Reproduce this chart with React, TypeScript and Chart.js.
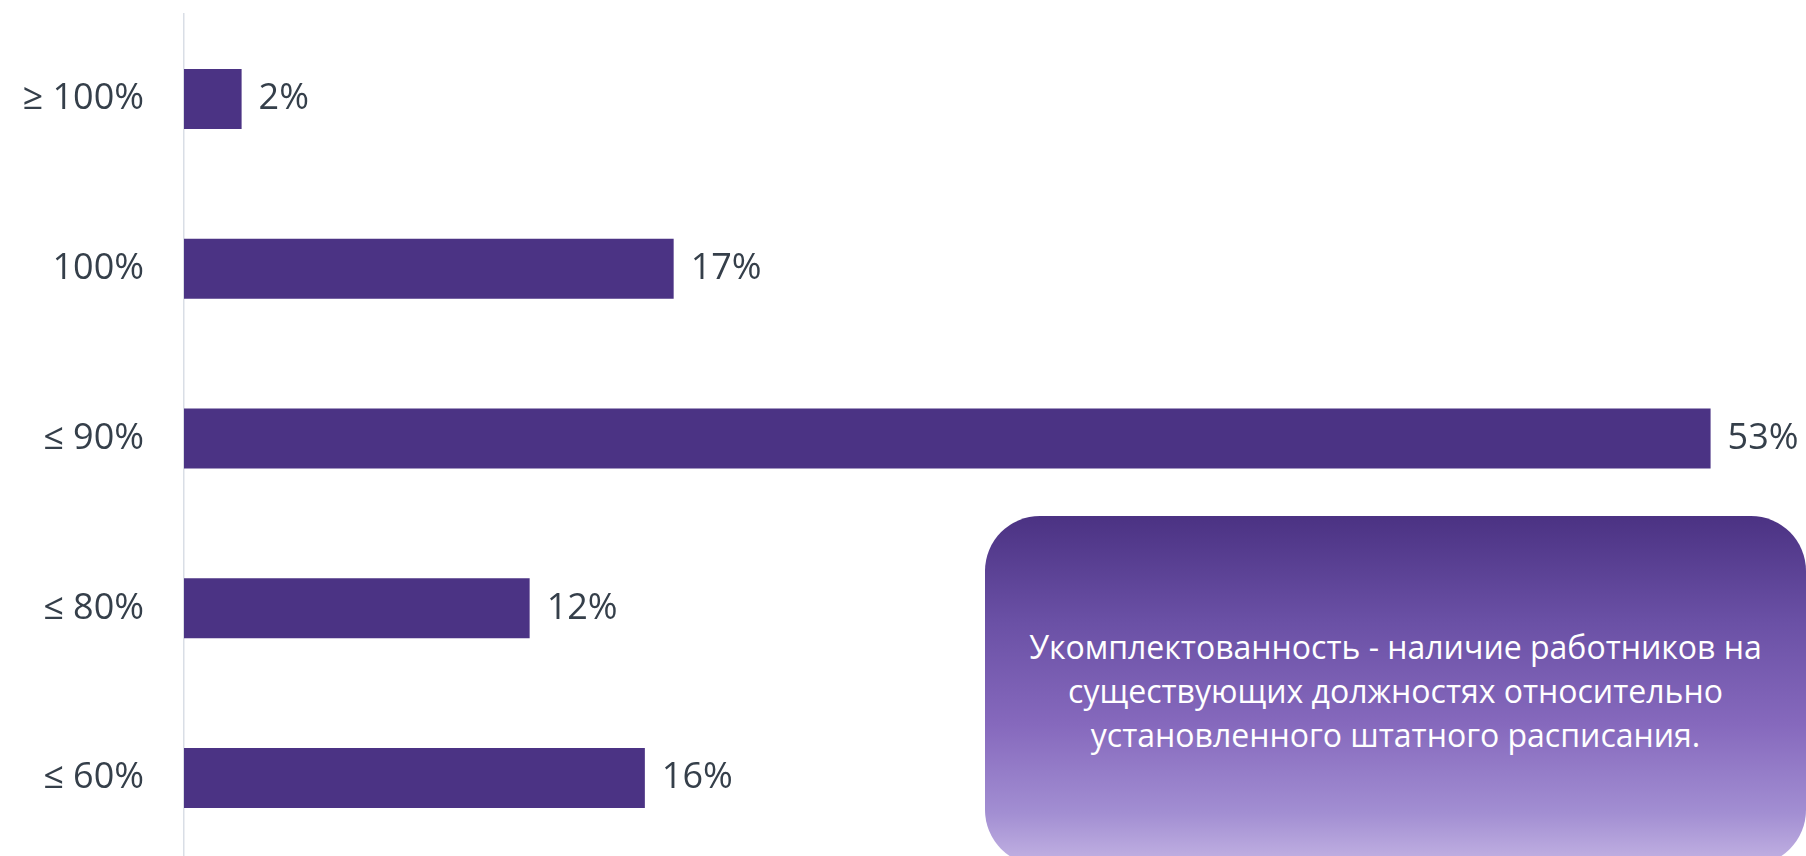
import React, { useEffect, useRef } from "react";
import { Chart, registerables } from "chart.js";

Chart.register(...registerables);

const categories = ["≥ 100%", "100%", "≤ 90%", "≤ 80%", "≤ 60%"];
const values = [2, 17, 53, 12, 16];
const valueLabels = ["2%", "17%", "53%", "12%", "16%"];
const noteLines = [
  "Укомплектованность - наличие работников на",
  "существующих должностях относительно",
  "установленного штатного расписания.",
];

const BAR_COLOR = "#4b3384";
const TEXT_COLOR = "#353f4a";
const FONT = "'Open Sans', sans-serif";
const LABEL_SIZE = 36;

const valueLabelPlugin = {
  id: "valueLabelPlugin",
  afterDatasetsDraw(chart: any) {
    const ctx = chart.ctx;
    const meta = chart.getDatasetMeta(0);
    ctx.save();
    ctx.font = `${LABEL_SIZE}px ${FONT}`;
    ctx.fillStyle = TEXT_COLOR;
    ctx.textAlign = "left";
    ctx.textBaseline = "middle";
    meta.data.forEach((el: any, i: number) => {
      ctx.fillText(valueLabels[i], el.x + 17, el.y);
    });
    ctx.restore();
  },
};

export default function App() {
  const canvasRef = useRef<HTMLCanvasElement | null>(null);

  useEffect(() => {
    if (!canvasRef.current) return;
    const chart = new Chart(canvasRef.current, {
      type: "bar",
      data: {
        labels: categories,
        datasets: [
          {
            data: values,
            backgroundColor: BAR_COLOR,
            borderWidth: 0,
            barPercentage: 0.3535,
            categoryPercentage: 1,
          },
        ],
      },
      options: {
        indexAxis: "y",
        responsive: true,
        maintainAspectRatio: false,
        animation: false,
        layout: { padding: { top: 14, bottom: 7, left: 0, right: 9 } },
        plugins: {
          legend: { display: false },
          tooltip: { enabled: false },
        },
        scales: {
          x: { display: false, min: 0, max: 56 },
          y: {
            grid: { display: true, drawOnChartArea: false, drawTicks: false },
            border: { display: true, color: "#d9dee6", width: 1.5 },
            ticks: {
              padding: 40,
              color: TEXT_COLOR,
              font: { size: LABEL_SIZE, family: FONT },
            },
            afterFit(scale: any) {
              scale.width = 184;
              scale.paddingTop = 0;
              scale.paddingBottom = 0;
            },
          },
        },
      },
      plugins: [valueLabelPlugin],
    } as any);
    return () => chart.destroy();
  }, []);

  return (
    <div style={{ position: "fixed", left: 0, top: 0, width: 1806, height: 870, background: "#ffffff" }}>
      <div style={{ position: "absolute", left: 0, top: 0, width: 1806, height: 870 }}>
        <canvas ref={canvasRef} />
      </div>
      <div
        style={{
          position: "absolute",
          left: 985,
          top: 516,
          width: 821,
          height: 349,
          borderRadius: 55,
          background:
            "linear-gradient(to bottom, #4b3283 0%, #6a50a5 30%, #8669bd 60%, #a28ed2 85%, #c3b3e3 100%)",
          display: "flex",
          flexDirection: "column",
          alignItems: "center",
          justifyContent: "center",
          color: "#ffffff",
          fontFamily: FONT,
          fontSize: 32,
          lineHeight: "44px",
          textAlign: "center",
        }}
      >
        {noteLines.map((l, i) => (
          <div key={i} style={{ whiteSpace: "nowrap" }}>{l}</div>
        ))}
      </div>
    </div>
  );
}
